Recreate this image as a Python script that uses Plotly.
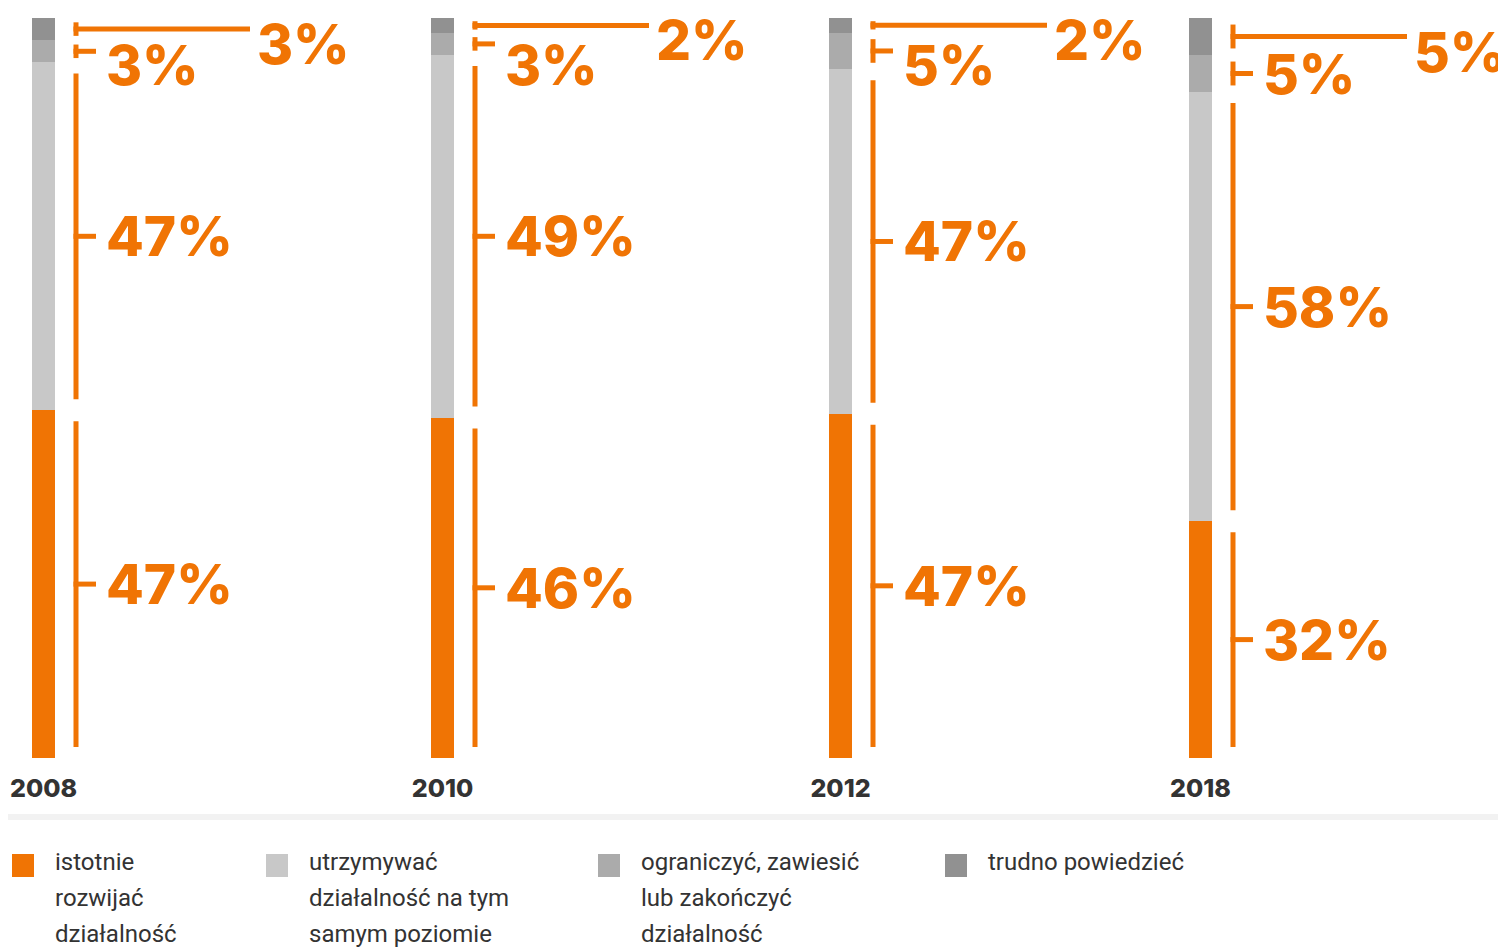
import plotly.graph_objects as go

# ---------------- data ----------------
years = ["2008", "2010", "2012", "2018"]
series_names = [
    "istotnie rozwijać działalność",
    "utrzymywać działalność na tym samym poziomie",
    "ograniczyć, zawiesić lub zakończyć działalność",
    "trudno powiedzieć",
]
legend_lines = [
    ["istotnie", "rozwijać", "działalność"],
    ["utrzymywać", "działalność na tym", "samym poziomie"],
    ["ograniczyć, zawiesić", "lub zakończyć", "działalność"],
    ["trudno powiedzieć"],
]
rozwijac = [47, 46, 47, 32]
utrzymywac = [47, 49, 47, 58]
ograniczyc = [3, 3, 5, 5]
trudno = [3, 2, 2, 5]
series_values = [rozwijac, utrzymywac, ograniczyc, trudno]
colors = ["#F07404", "#C8C8C8", "#ABABAB", "#919191"]

# ---------------- layout constants (page pixels) ----------------
OFF = 8                          # page body margin
PAGE_W, PAGE_H = 1506, 950
W, H = PAGE_W - OFF, PAGE_H - OFF
TOP, BOTTOM = 18, 758            # plot area in page pixels
PX_PER_UNIT = (BOTTOM - TOP) / 100.0
bar_x = [43.5, 442.5, 840.5, 1200.5]   # bar centres (x axis in page pixels)
BAR_W = 23
BRACKET_DX = 32.5
ORANGE = "#F07404"
TEXT_DARK = "#333333"
PCT_FONT = dict(family="Inter, Lato, sans-serif", size=55, color=ORANGE, weight=800)


def py2paper(py):
    return (BOTTOM - py) / (BOTTOM - TOP)


fig = go.Figure()
for name, vals, col in zip(series_names, series_values, colors):
    fig.add_trace(go.Bar(
        x=bar_x, y=vals, width=BAR_W, name=name,
        marker=dict(color=col, line=dict(width=0)),
        showlegend=False, hoverinfo="skip",
    ))

shapes = []
annotations = []
line_style = dict(color=ORANGE, width=5)

for i, bx in enumerate(bar_x):
    vals = [s[i] for s in series_values]
    total = float(sum(vals))
    norm = [v * 100.0 / total for v in vals]
    bxr = bx + BRACKET_DX
    base = 0.0
    for k, (v, nv) in enumerate(zip(vals, norm)):
        lo, hi = base, base + nv
        base = hi
        hpx = nv * PX_PER_UNIT
        inset = min(11.0, 0.15 * hpx + 1.0) / PX_PER_UNIT
        shapes.append(dict(type="line", xref="x", yref="y", x0=bxr, x1=bxr,
                           y0=lo + inset, y1=hi - inset, line=line_style, layer="above"))
        mid = (lo + hi) / 2.0
        is_top = k == len(vals) - 1
        if is_top:
            shapes.append(dict(type="line", xref="x", yref="y", x0=bxr - 2.5, x1=bxr + 174,
                               y0=mid, y1=mid, line=line_style))
            annotations.append(dict(x=bxr + 179, y=mid, xref="x", yref="y",
                                    text=f"{v}%", showarrow=False, xanchor="left",
                                    yanchor="middle", yshift=-15, font=PCT_FONT))
        else:
            shapes.append(dict(type="line", xref="x", yref="y", x0=bxr - 2.5, x1=bxr + 20,
                               y0=mid, y1=mid, line=line_style))
            ly = min(mid, 100 - 47 / PX_PER_UNIT)
            annotations.append(dict(x=bxr + 28, y=ly, xref="x", yref="y",
                                    text=f"{v}%", showarrow=False, xanchor="left",
                                    yanchor="middle", font=PCT_FONT))

# separator
shapes.append(dict(type="line", xref="paper", yref="paper", x0=0, x1=1,
                   y0=py2paper(817), y1=py2paper(817),
                   line=dict(color="#F2F2F2", width=6)))

# legend (drawn manually)
legend_sq_x = [12, 266, 598, 945]
for lines, col, sx in zip(legend_lines, colors, legend_sq_x):
    shapes.append(dict(type="rect", xref="x", yref="paper", x0=sx, x1=sx + 22,
                       y0=py2paper(877), y1=py2paper(854), fillcolor=col,
                       line=dict(width=0)))
    for j, txt in enumerate(lines):
        annotations.append(dict(x=sx + 41, y=py2paper(862 + 36 * j), xref="x", yref="paper",
                                text=txt, showarrow=False, xanchor="left", yanchor="middle",
                                font=dict(family="Roboto, sans-serif", size=24, color=TEXT_DARK)))

fig.update_layout(
    width=W, height=H,
    margin=dict(l=0, r=0, t=TOP - OFF, b=PAGE_H - BOTTOM, pad=0),
    barmode="stack", barnorm="percent",
    plot_bgcolor="white", paper_bgcolor="white",
    shapes=shapes, annotations=annotations,
    xaxis=dict(range=[OFF, PAGE_W], tickvals=bar_x, ticktext=years, showgrid=False,
               zeroline=False, showline=False, ticks="outside", ticklen=8,
               tickcolor="rgba(0,0,0,0)",
               tickfont=dict(family="Inter, Lato, sans-serif", size=25, color=TEXT_DARK, weight=800),
               fixedrange=True),
    yaxis=dict(range=[0, 100], visible=False, fixedrange=True),
    showlegend=False,
)

fig.write_html("out.html")
